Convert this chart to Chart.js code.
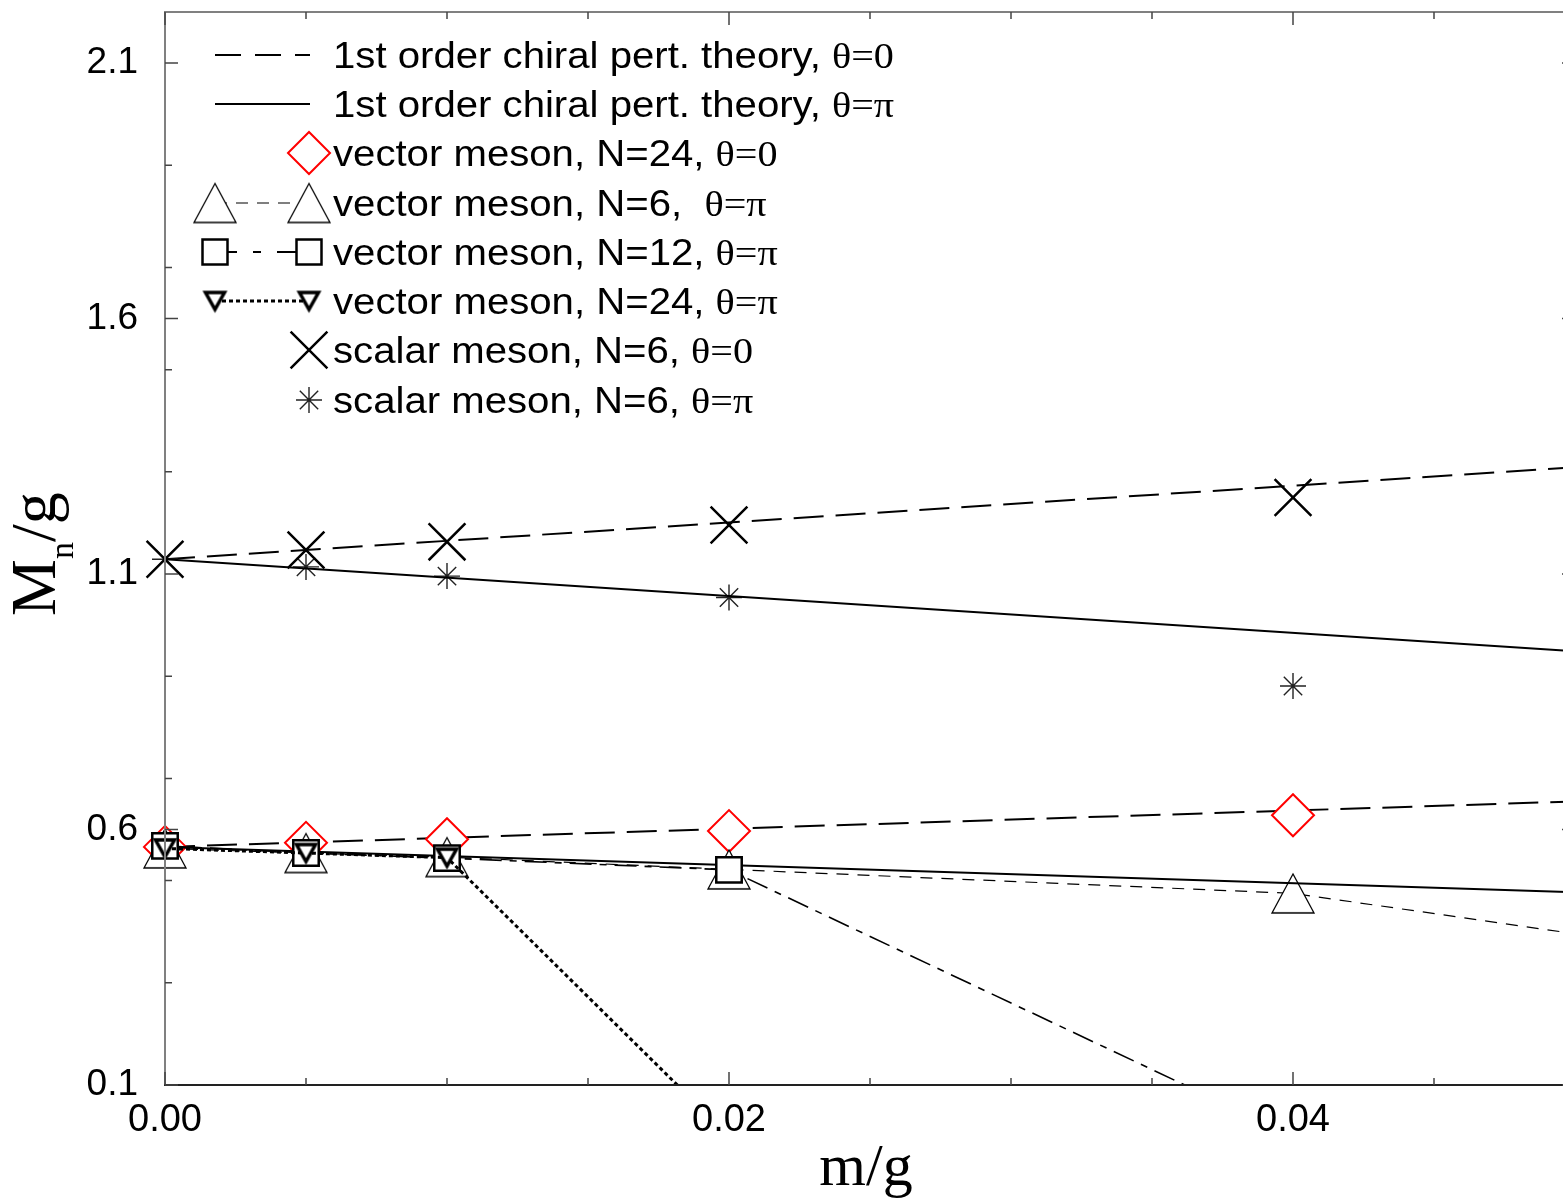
<!DOCTYPE html>
<html>
<head>
<meta charset="utf-8">
<script src="https://cdn.jsdelivr.net/npm/chart.js@4.4.1/dist/chart.umd.min.js"></script>
<style>
  html, body { margin: 0; padding: 0; background: #fff; overflow: hidden; }
  #wrap { width: 1590px; height: 1198px; }
</style>
</head>
<body>
<div id="wrap"><canvas id="myChartMeson" width="1590" height="1198"></canvas></div>
<script>
// m/g values where the meson masses were computed
const mgValues = [0, 0.005, 0.01, 0.02, 0.04]

// 1st order chiral perturbation theory (straight lines)
const theoryX = [0, 0.05]
const scalarPT0 = [1.129, 1.309]
const scalarPTpi = [1.129, 0.949]
const vectorPT0 = [0.566, 0.655]
const vectorPTpi = [0.566, 0.477]

// vector meson
const vecN24theta0 = [0.566, 0.574, 0.581, 0.597, 0.628]
const vecN6piX = [0, 0.005, 0.01, 0.02, 0.04, 0.06]
const vecN6pi = [0.563, 0.554, 0.546, 0.522, 0.475, 0.317]
const vecN12piX = [0, 0.005, 0.01, 0.02, 0.04]
const vecN12pi = [0.568, 0.554, 0.544, 0.521, 0.0]
const vecN24piX = [0, 0.005, 0.01, 0.02]
const vecN24pi = [0.563, 0.554, 0.545, 0.0]

// scalar meson
const scalarN6theta0 = [1.129, 1.147, 1.163, 1.196, 1.250]
const scalarN6pi = [1.129, 1.114, 1.096, 1.054, 0.881]

// axis ticks
const xMajorTicks = [0, 0.02, 0.04]
const xMinorTicks = [0.005, 0.01, 0.015, 0.025, 0.03, 0.035, 0.045]
const yMajorTicks = [0.1, 0.6, 1.1, 1.6, 2.1]
const yMinorTicks = [0.3, 0.5, 0.7, 0.9, 1.3, 1.5, 1.7, 1.9]

const legendLabels = [
  ['1st order chiral pert. theory, ', 'θ=0'],
  ['1st order chiral pert. theory, ', 'θ=π'],
  ['vector meson, N=24, ', 'θ=0'],
  ['vector meson, N=6,  ', 'θ=π'],
  ['vector meson, N=12, ', 'θ=π'],
  ['vector meson, N=24, ', 'θ=π'],
  ['scalar meson, N=6, ', 'θ=0'],
  ['scalar meson, N=6, ', 'θ=π']
]

const SANS = '"Liberation Sans", Arial, sans-serif'
const SERIF = '"Liberation Serif", "Times New Roman", serif'

const dashLong = [30, 12]
const dashThin = [12, 9]
const dashDot = [22, 8, 7, 8]
const dotted = [4, 3]

function pts(xs, ys) {
  return ys.map((y, i) => ({ x: xs[i], y: y }))
}

// triangle markers, centred on their bounding box
function makeTriangle(w, h, lw, down) {
  const c = document.createElement('canvas')
  c.width = Math.ceil(w + lw * 4)
  c.height = Math.ceil(h + lw * 4)
  const g = c.getContext('2d')
  const cx = c.width / 2, cy = c.height / 2
  g.beginPath()
  if (!down) {
    g.moveTo(cx, cy - h / 2)
    g.lineTo(cx + w / 2, cy + h / 2)
    g.lineTo(cx - w / 2, cy + h / 2)
  } else {
    g.moveTo(cx, cy + h / 2)
    g.lineTo(cx + w / 2, cy - h / 2)
    g.lineTo(cx - w / 2, cy - h / 2)
  }
  g.closePath()
  g.fillStyle = '#fff'
  g.fill()
  g.lineWidth = lw
  g.strokeStyle = '#000'
  g.stroke()
  return c
}

const triUp = makeTriangle(42, 39, 1.3, false)
const triDown = makeTriangle(19, 17, 3.5, true)

const markerClip = { left: 40, top: 0, right: 0, bottom: 0 }

function noPadding(scale) {
  scale.paddingTop = 0
  scale.paddingBottom = 0
  scale.paddingLeft = 0
  scale.paddingRight = 0
}

// axes: lines and inward tick marks
const axesPlugin = {
  id: 'axesPlugin',
  afterDraw(chart) {
    const ctx = chart.ctx
    const a = chart.chartArea
    const xs = chart.scales.x
    const ys = chart.scales.y
    ctx.save()
    ctx.lineCap = 'butt'
    ctx.strokeStyle = '#808080'
    ctx.lineWidth = 2
    ctx.beginPath()
    ctx.moveTo(a.left, a.bottom)
    ctx.lineTo(a.left, a.top)
    ctx.lineTo(a.right, a.top)
    ctx.lineTo(a.right, a.bottom)
    ctx.stroke()
    ctx.strokeStyle = '#222'
    ctx.beginPath()
    ctx.moveTo(a.left - 1, a.bottom)
    ctx.lineTo(a.right, a.bottom)
    ctx.stroke()

    ctx.lineWidth = 1.5
    ctx.strokeStyle = '#444'
    ctx.beginPath()
    for (const v of xMajorTicks) {
      const px = xs.getPixelForValue(v)
      ctx.moveTo(px, a.bottom); ctx.lineTo(px, a.bottom - 13)
      ctx.moveTo(px, a.top); ctx.lineTo(px, a.top + 13)
    }
    for (const v of xMinorTicks) {
      const px = xs.getPixelForValue(v)
      ctx.moveTo(px, a.bottom); ctx.lineTo(px, a.bottom - 7)
      ctx.moveTo(px, a.top); ctx.lineTo(px, a.top + 7)
    }
    for (const v of yMajorTicks) {
      const py = ys.getPixelForValue(v)
      ctx.moveTo(a.left, py); ctx.lineTo(a.left + 13, py)
      ctx.moveTo(a.right, py); ctx.lineTo(a.right - 13, py)
    }
    for (const v of yMinorTicks) {
      const py = ys.getPixelForValue(v)
      ctx.moveTo(a.left, py); ctx.lineTo(a.left + 7, py)
      ctx.moveTo(a.right, py); ctx.lineTo(a.right - 7, py)
    }
    ctx.stroke()

    // axis titles
    ctx.fillStyle = '#000'
    ctx.font = '60px ' + SERIF
    ctx.textAlign = 'center'
    ctx.textBaseline = 'alphabetic'
    ctx.fillText('m/g', 866, 1185)

    ctx.translate(55, 616)
    ctx.rotate(-Math.PI / 2)
    ctx.textAlign = 'left'
    ctx.font = '64px ' + SERIF
    ctx.fillText('M', 0, 0)
    const wM = ctx.measureText('M').width
    ctx.font = '34px ' + SERIF
    ctx.fillText('n', wM, 18)
    const wn = ctx.measureText('n').width
    ctx.font = '64px ' + SERIF
    ctx.fillText('/g', wM + wn, 0)
    ctx.restore()
  }
}

function legendLine(ctx, y, dash, width) {
  ctx.save()
  ctx.setLineDash(dash)
  ctx.lineWidth = width
  ctx.strokeStyle = '#000'
  ctx.beginPath()
  ctx.moveTo(215, y)
  ctx.lineTo(310, y)
  ctx.stroke()
  ctx.restore()
}

// legend in the upper left corner
const legendPlugin = {
  id: 'legendPlugin',
  afterDraw(chart) {
    const ctx = chart.ctx
    const rows = [55, 104, 153, 203, 252, 301, 350, 400]
    ctx.save()

    legendLine(ctx, rows[0], [26, 14], 2)
    legendLine(ctx, rows[1], [], 2)
    legendLine(ctx, rows[3], dashThin, 1.2)
    legendLine(ctx, rows[4], [22, 16, 8, 16, 40], 2)
    legendLine(ctx, rows[5], dotted, 3)

    // diamond
    ctx.strokeStyle = '#ff0000'
    ctx.fillStyle = '#fff'
    ctx.lineWidth = 2
    ctx.beginPath()
    ctx.moveTo(309 - 21, rows[2]); ctx.lineTo(309, rows[2] - 21)
    ctx.lineTo(309 + 21, rows[2]); ctx.lineTo(309, rows[2] + 21)
    ctx.closePath(); ctx.fill(); ctx.stroke()

    for (const x of [215, 309]) {
      ctx.drawImage(triUp, x - triUp.width / 2, rows[3] - triUp.height / 2)
      ctx.strokeStyle = '#000'
      ctx.lineWidth = 2.5
      ctx.fillStyle = '#fff'
      ctx.beginPath()
      ctx.rect(x - 12.5, rows[4] - 12.5, 25, 25)
      ctx.fill(); ctx.stroke()
      ctx.drawImage(triDown, x - triDown.width / 2, rows[5] - triDown.height / 2)
    }

    // cross
    ctx.strokeStyle = '#000'
    ctx.lineWidth = 2.5
    ctx.beginPath()
    ctx.moveTo(309 - 18.4, rows[6] - 18.4); ctx.lineTo(309 + 18.4, rows[6] + 18.4)
    ctx.moveTo(309 + 18.4, rows[6] - 18.4); ctx.lineTo(309 - 18.4, rows[6] + 18.4)
    ctx.stroke()

    // asterisk
    ctx.strokeStyle = '#222'
    ctx.lineWidth = 1.4
    ctx.beginPath()
    for (let k = 0; k < 4; k++) {
      const ang = k * Math.PI / 4
      const dx = Math.cos(ang) * 13, dy = Math.sin(ang) * 13
      ctx.moveTo(309 - dx, rows[7] - dy); ctx.lineTo(309 + dx, rows[7] + dy)
    }
    ctx.stroke()

    // texts, slightly wide as in the original
    ctx.fillStyle = '#000'
    ctx.textAlign = 'left'
    ctx.textBaseline = 'alphabetic'
    legendLabels.forEach((lab, i) => {
      ctx.save()
      ctx.translate(333, rows[i] + 13)
      ctx.scale(1.115, 1)
      ctx.font = '36px ' + SANS
      ctx.fillText(lab[0], 0, 0)
      const w = ctx.measureText(lab[0]).width
      ctx.font = '36px ' + SERIF
      ctx.fillText(lab[1], w, 0)
      ctx.restore()
    })
    ctx.restore()
  }
}

new Chart(document.getElementById('myChartMeson'), {
  type: 'scatter',
  data: {
    datasets: [
      {
        label: 'vector meson, N=24, θ=π',
        data: pts(vecN24piX, vecN24pi),
        showLine: true,
        borderColor: '#000',
        borderWidth: 3,
        borderDash: dotted,
        pointStyle: triDown,
        pointRadius: 12,
        clip: markerClip,
        order: 1
      },
      {
        label: 'vector meson, N=12, θ=π',
        data: pts(vecN12piX, vecN12pi),
        showLine: true,
        borderColor: '#000',
        borderWidth: 1.6,
        borderDash: dashDot,
        pointStyle: 'rect',
        pointRadius: 18,
        pointBorderWidth: 2.5,
        pointBorderColor: '#000',
        pointBackgroundColor: '#fff',
        clip: markerClip,
        order: 2
      },
      {
        label: '1st order chiral pert. theory, θ=π (scalar)',
        data: pts(theoryX, scalarPTpi),
        showLine: true,
        borderColor: '#000',
        borderWidth: 2,
        pointRadius: 0,
        order: 3
      },
      {
        label: '1st order chiral pert. theory, θ=π (vector)',
        data: pts(theoryX, vectorPTpi),
        showLine: true,
        borderColor: '#000',
        borderWidth: 2,
        pointRadius: 0,
        order: 3
      },
      {
        label: 'vector meson, N=6, θ=π',
        data: pts(vecN6piX, vecN6pi),
        showLine: true,
        borderColor: '#000',
        borderWidth: 1.2,
        borderDash: dashThin,
        pointStyle: triUp,
        pointRadius: 22,
        clip: markerClip,
        order: 4
      },
      {
        label: 'scalar meson, N=6, θ=0',
        data: pts(mgValues, scalarN6theta0),
        showLine: false,
        pointStyle: 'crossRot',
        pointRadius: 26,
        pointBorderWidth: 2.5,
        pointBorderColor: '#000',
        clip: markerClip,
        order: 5
      },
      {
        label: 'scalar meson, N=6, θ=π',
        data: pts(mgValues, scalarN6pi),
        showLine: false,
        pointStyle: 'star',
        pointRadius: 13,
        pointBorderWidth: 1.4,
        pointBorderColor: '#222',
        clip: markerClip,
        order: 5
      },
      {
        label: 'vector meson, N=24, θ=0',
        data: pts(mgValues, vecN24theta0),
        showLine: false,
        pointStyle: 'rectRot',
        pointRadius: 21,
        pointBorderWidth: 2,
        pointBorderColor: '#ff0000',
        pointBackgroundColor: '#fff',
        clip: markerClip,
        order: 6
      },
      {
        label: '1st order chiral pert. theory, θ=0 (scalar)',
        data: pts(theoryX, scalarPT0),
        showLine: true,
        borderColor: '#000',
        borderWidth: 2,
        borderDash: dashLong,
        pointRadius: 0,
        order: 7
      },
      {
        label: '1st order chiral pert. theory, θ=0 (vector)',
        data: pts(theoryX, vectorPT0),
        showLine: true,
        borderColor: '#000',
        borderWidth: 2,
        borderDash: dashLong,
        pointRadius: 0,
        order: 7
      }
    ]
  },
  options: {
    responsive: false,
    animation: false,
    events: [],
    layout: { autoPadding: false, padding: { top: 12, right: 15, left: 0, bottom: 0 } },
    plugins: {
      legend: { display: false },
      tooltip: { enabled: false }
    },
    scales: {
      x: {
        type: 'linear',
        min: 0,
        max: 0.05,
        grid: { display: false, drawTicks: false },
        border: { display: false },
        afterFit: (scale) => { scale.height = 113; noPadding(scale) },
        afterBuildTicks: (scale) => { scale.ticks = xMajorTicks.map(v => ({ value: v })) },
        ticks: {
          autoSkip: false,
          maxRotation: 0,
          padding: 13,
          color: '#000',
          font: { family: SANS, size: 38 },
          callback: (v) => Number(v).toFixed(2)
        }
      },
      y: {
        type: 'linear',
        min: 0.1,
        max: 2.2,
        grid: { display: false, drawTicks: false },
        border: { display: false },
        afterFit: (scale) => { scale.width = 165; noPadding(scale) },
        afterBuildTicks: (scale) => { scale.ticks = yMajorTicks.map(v => ({ value: v })) },
        ticks: {
          autoSkip: false,
          padding: 27,
          color: '#000',
          font: { family: SANS, size: 37 },
          callback: (v) => Number(v).toFixed(1)
        }
      }
    }
  },
  plugins: [axesPlugin, legendPlugin]
})
</script>
</body>
</html>
